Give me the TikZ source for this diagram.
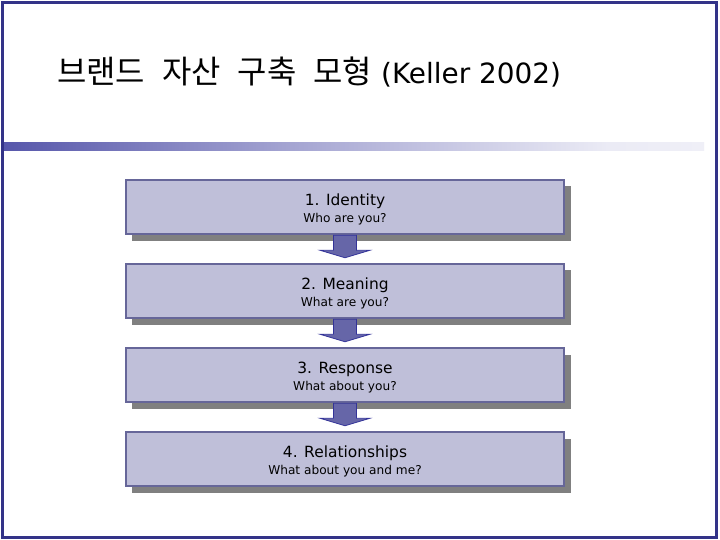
\documentclass[tikz,border=0pt]{standalone}
\usepackage{fontspec}
\setmainfont{DejaVu Sans}
\newfontfamily\krfont{Noto Sans CJK KR}
\usetikzlibrary{shadows}
\definecolor{framec}{HTML}{333388}
\definecolor{barblue}{HTML}{333399}
\definecolor{boxfill}{HTML}{BFBFD9}
\definecolor{boxline}{HTML}{666699}
\definecolor{shadowc}{HTML}{808080}
\definecolor{arrowfill}{HTML}{6666A8}
\definecolor{arrowline}{HTML}{333399}
\pgfdeclarehorizontalshading{barshade}{100bp}{color(0bp)=(barblue); color(22bp)=(barblue!88); color(45bp)=(barblue!45); color(68bp)=(barblue!10); color(100bp)=(white)}
\tikzset{
  stage/.style={draw=boxline, line width=2.5bp, fill=boxfill,
    minimum width=438bp, minimum height=54bp, inner sep=0pt,
    drop shadow={shadow xshift=6.5bp, shadow yshift=-6.5bp, opacity=1, fill=shadowc}},
  stagetxt/.style={inner sep=0pt, align=center},
  downarrow/.style={draw=arrowline, line width=0.8bp, fill=arrowfill}
}
\newcommand{\stagetext}[2]{{\fontsize{15.5}{17}\selectfont #1}\\[3bp]{\fontsize{12.2}{14}\selectfont #2}}
\newcommand{\kgap}{\hspace{17bp}}
\begin{document}
\begin{tikzpicture}[x=1bp,y=-1bp]
\useasboundingbox (0,0) rectangle (720,540);
\fill[white] (0,0) rectangle (720,540);
% frame
\draw[framec, line width=3bp] (2.5,2.5) rectangle (716.5,537.5);
% gradient bar
\shade[shading=barshade] (4,143) rectangle (704,151);
% title
\node[anchor=west, inner sep=0pt] (title) at (57,72)
  {{\krfont\fontsize{32}{35}\selectfont 브랜드\kgap 자산\kgap 구축\kgap 모형}\hspace{9bp}{\fontsize{28}{31}\selectfont (Keller 2002)}};
% stages
\node[stage] (b1) at (345,207) {};
\node[stage] (b2) at (345,291) {};
\node[stage] (b3) at (345,375) {};
\node[stage] (b4) at (345,459) {};
\node[stagetxt] (t1) at ([yshift=-2.5bp]b1.center) {\stagetext{1. Identity}{Who are you?}};
\node[stagetxt] (t2) at ([yshift=-2.5bp]b2.center) {\stagetext{2. Meaning}{What are you?}};
\node[stagetxt] (t3) at ([yshift=-2.5bp]b3.center) {\stagetext{3. Response}{What about you?}};
\node[stagetxt] (t4) at ([yshift=-2.5bp]b4.center) {\stagetext{4. Relationships}{What about you and me?}};
% arrows
\foreach \a/\b in {b1/b2, b2/b3, b3/b4}{
  \draw[downarrow] ([xshift=-11.5bp, yshift=0bp]\a.south) -- ([xshift=11.5bp]\a.south)
    -- ([xshift=11.5bp, yshift=-15bp]\a.south) -- ([xshift=25bp, yshift=-15bp]\a.south)
    -- ([yshift=5bp]\b.north) -- ([xshift=-25bp, yshift=-15bp]\a.south)
    -- ([xshift=-11.5bp, yshift=-15bp]\a.south) -- cycle;
}
\end{tikzpicture}
\end{document}
